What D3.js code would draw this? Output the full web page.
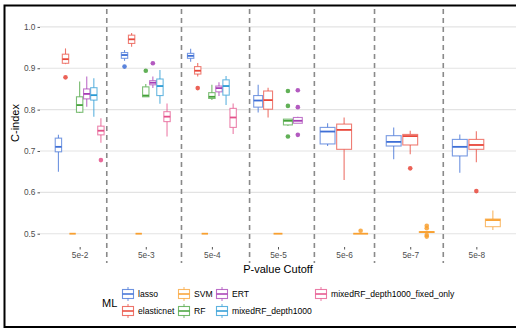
<!DOCTYPE html>
<html><head><meta charset="utf-8">
<script src="https://cdn.jsdelivr.net/npm/d3@7"></script>
<style>body{margin:0;background:#fff}svg{display:block}text{font-family:"Liberation Sans",Arial,sans-serif}</style>
</head><body>
<svg id="c" width="516" height="329"></svg>
<script>
const cutoffs = ["5e-2","5e-3","5e-4","5e-5","5e-6","5e-7","5e-8"];
const models = ["lasso","elasticnet","SVM","RF","ERT","mixedRF_depth1000","mixedRF_depth1000_fixed_only"];
const modelColors = ["#3E6FD6","#E8473A","#F8A030","#45A23A","#A63DB5","#2A9AD4","#E4508A"];
const yTicks = [0.5,0.6,0.7,0.8,0.9,1.0];
const vlinePositions = [0.41,1.54,2.57,3.55,4.46,5.50];
const allModels = models.slice();
const modelsPerCutoff = [allModels, allModels, allModels,
  ["lasso","elasticnet","SVM","RF","ERT"],
  ["lasso","elasticnet","SVM"],["lasso","elasticnet","SVM"],["lasso","elasticnet","SVM"]];
// [lowerWhisker, q1, median, q3, upperWhisker, outliers]
const box_5e2 = [
 [0.650,0.698,0.710,0.731,0.739,[]],
 [0.910,0.912,0.922,0.934,0.948,[0.878]],
 [0.5,0.5,0.5,0.5,0.5,[]],
 [0.792,0.7935,0.811,0.831,0.868,[]],
 [0.807,0.826,0.838,0.850,0.880,[]],
 [0.783,0.823,0.835,0.853,0.876,[]],
 [0.720,0.739,0.749,0.760,0.779,[0.678]]
];
const box_5e3 = [
 [0.918,0.924,0.932,0.938,0.944,[0.904]],
 [0.952,0.960,0.970,0.980,0.985,[]],
 [0.5,0.5,0.5,0.5,0.5,[]],
 [0.831,0.831,0.834,0.855,0.862,[0.894]],
 [0.852,0.860,0.865,0.870,0.880,[0.912]],
 [0.814,0.834,0.857,0.874,0.896,[]],
 [0.735,0.771,0.783,0.795,0.815,[]]
];
const box_5e4 = [
 [0.916,0.924,0.930,0.936,0.947,[]],
 [0.880,0.886,0.894,0.904,0.913,[0.852]],
 [0.5,0.5,0.5,0.5,0.5,[]],
 [0.823,0.827,0.831,0.841,0.860,[]],
 [0.833,0.843,0.852,0.857,0.866,[]],
 [0.811,0.835,0.857,0.872,0.881,[]],
 [0.741,0.757,0.781,0.803,0.815,[]]
];
const box_5e5 = [
 [0.793,0.806,0.822,0.834,0.860,[]],
 [0.781,0.801,0.823,0.845,0.853,[]],
 [0.5,0.5,0.5,0.5,0.5,[]],
 [0.761,0.763,0.773,0.777,0.777,[0.845,0.809,0.735]],
 [0.767,0.767,0.773,0.781,0.783,[0.847,0.806,0.739]]
];
const box_5e6 = [
 [0.712,0.717,0.747,0.757,0.767,[]],
 [0.630,0.704,0.751,0.765,0.781,[]],
 [0.5,0.5,0.5,0.5,0.5,[0.507]]
];
const box_5e7 = [
 [0.680,0.712,0.722,0.737,0.757,[]],
 [0.692,0.7145,0.736,0.740,0.749,[0.658]],
 [0.502,0.503,0.504,0.505,0.506,[0.519,0.513,0.497,0.493]]
];
const box_5e8 = [
 [0.6475,0.688,0.710,0.728,0.740,[]],
 [0.673,0.704,0.7145,0.728,0.748,[0.603]],
 [0.509,0.517,0.533,0.5355,0.556,[]]
];
const boxStats = [box_5e2,box_5e3,box_5e4,box_5e5,box_5e6,box_5e7,box_5e8];

const svg = d3.select("#c");
const P = {left:40, right:516, top:9, bottom:244};
const x = d3.scaleLinear().domain([-0.6, cutoffs.length-0.4]).range([P.left, P.right]);
const y = d3.scaleLinear().domain([0.5,1.0]).range([233.7, 26.9]);
const color = d3.scaleOrdinal().domain(models).range(modelColors);

// outer border
svg.append("rect").attr("x",4.5).attr("y",5.5).attr("width",530).attr("height",321.5)
  .attr("fill","none").attr("stroke","#000").attr("stroke-width",2);

// gridlines
svg.append("g").selectAll("line").data(yTicks).join("line")
  .attr("x1",P.left).attr("x2",P.right).attr("y1",d=>y(d)).attr("y2",d=>y(d))
  .attr("stroke","#e3e3e3").attr("stroke-width",1.1);

// y axis
const yAxis = svg.append("g").attr("transform",`translate(${P.left},0)`)
  .call(d3.axisLeft(y).tickValues(yTicks).tickFormat(d3.format(".1f")).tickSize(2.5).tickPadding(2));
yAxis.select(".domain").remove();
yAxis.selectAll(".tick line").attr("stroke","#555");
yAxis.selectAll("text").attr("fill","#4d4d4d").style("font-size","8.3px");

// x axis
const xAxis = svg.append("g").attr("transform",`translate(0,247)`)
  .call(d3.axisBottom(x).tickValues(d3.range(cutoffs.length)).tickFormat(i=>cutoffs[i]).tickSize(2.5).tickPadding(3));
xAxis.select(".domain").remove();
xAxis.selectAll(".tick line").attr("stroke","#555");
xAxis.selectAll("text").attr("fill","#4d4d4d").style("font-size","8.3px");

// dashed vlines
svg.append("g").selectAll("line").data(vlinePositions).join("line")
  .attr("x1",d=>x(d)).attr("x2",d=>x(d)).attr("y1",P.top).attr("y2",263)
  .attr("stroke","#8a8a8a").attr("stroke-width",1.6).attr("stroke-dasharray","5,4");

// boxes
const dodge = 0.75;
const g = svg.append("g");
boxStats.forEach((arr,ci)=>{
  const ms = modelsPerCutoff[ci];
  const n = ms.length;
  const slot = dodge/n;
  arr.forEach((s,k)=>{
    const m = ms[k];
    const c = color(m);
    const cx = x(ci - dodge/2 + slot*(k+0.5));
    const bw = (x(slot)-x(0))*0.9;
    const [lo,q1,med,q3,hi,outs] = s;
    const bg = g.append("g");
    bg.append("line").attr("x1",cx).attr("x2",cx).attr("y1",y(hi)).attr("y2",y(q3))
      .attr("stroke",c).attr("stroke-opacity",0.75).attr("stroke-width",1.1);
    bg.append("line").attr("x1",cx).attr("x2",cx).attr("y1",y(q1)).attr("y2",y(lo))
      .attr("stroke",c).attr("stroke-opacity",0.75).attr("stroke-width",1.1);
    bg.append("rect").attr("x",cx-bw/2).attr("width",bw)
      .attr("y",y(q3)).attr("height",Math.max(0,y(q1)-y(q3)))
      .attr("fill","#fff").attr("stroke",c).attr("stroke-opacity",0.7).attr("stroke-width",1.1);
    bg.append("line").attr("x1",cx-bw/2).attr("x2",cx+bw/2).attr("y1",y(med)).attr("y2",y(med))
      .attr("stroke",c).attr("stroke-width",1.8);
    bg.selectAll("circle").data(outs).join("circle")
      .attr("cx",cx).attr("cy",d=>y(d)).attr("r",2.3).attr("fill",c).attr("fill-opacity",0.85);
  });
});

// axis titles
svg.append("text").attr("x",278).attr("y",273).attr("text-anchor","middle")
  .style("font-size","11px").attr("fill","#000").text("P-value Cutoff");
svg.append("text").attr("transform","translate(19,123) rotate(-90)").attr("text-anchor","middle")
  .style("font-size","11px").attr("fill","#000").text("C-index");

// legend
const lg = svg.append("g");
lg.append("text").attr("x",102).attr("y",307).style("font-size","11px").attr("fill","#000").text("ML");
const colX = [122,178,216,315];
const rowY = [294,311];
models.forEach((m,i)=>{
  const col = Math.floor(i/2), row = i%2;
  const kx = colX[col], ky = rowY[row];
  const c = color(m);
  const kg = lg.append("g").attr("transform",`translate(${kx},${ky})`);
  kg.append("line").attr("x1",6).attr("x2",6).attr("y1",-7).attr("y2",7).attr("stroke",c).attr("stroke-opacity",0.75);
  kg.append("rect").attr("x",0.5).attr("y",-4.5).attr("width",11).attr("height",9)
    .attr("fill","#fff").attr("stroke",c).attr("stroke-opacity",0.75).attr("stroke-width",1.1);
  kg.append("line").attr("x1",0.5).attr("x2",11.5).attr("y1",0).attr("y2",0).attr("stroke",c).attr("stroke-width",1.5);
  lg.append("text").attr("x",kx+16).attr("y",ky+3).style("font-size","8.6px").attr("fill","#000").text(m);
});
</script>
</body></html>
